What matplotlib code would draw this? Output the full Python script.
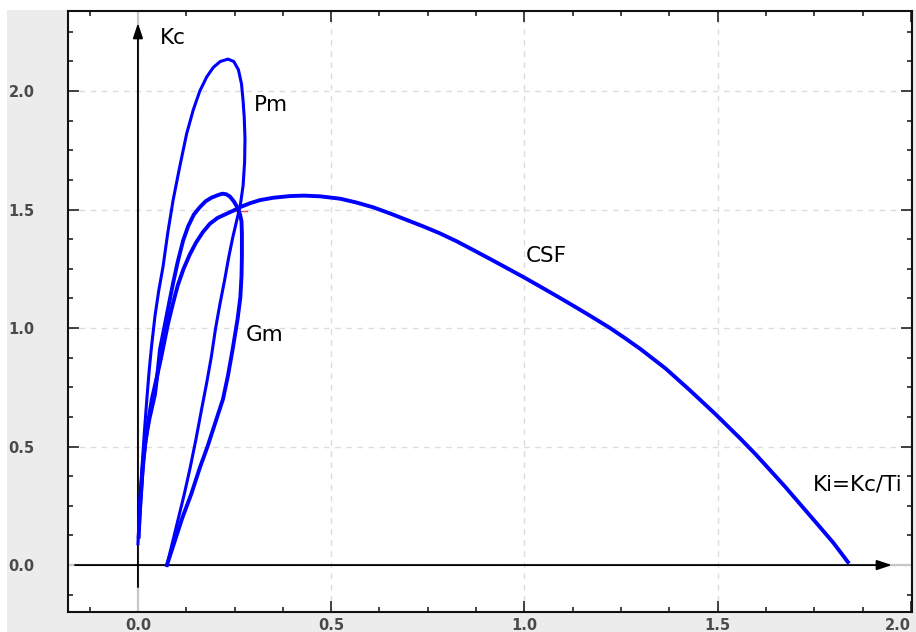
import matplotlib
matplotlib.use("Agg")
import matplotlib.pyplot as plt
from matplotlib.patches import Rectangle
from matplotlib.ticker import MultipleLocator

# ---- data ----
pm_x = [0.000, 0.002, 0.004, 0.008, 0.012, 0.017, 0.023, 0.029, 0.035, 0.044, 0.054, 0.065,
        0.077, 0.091, 0.108, 0.126, 0.143, 0.160, 0.178, 0.195, 0.213, 0.233, 0.248, 0.260,
        0.268, 0.272, 0.275, 0.277, 0.276, 0.272, 0.265, 0.255, 0.245, 0.235, 0.224, 0.212,
        0.201, 0.190, 0.178, 0.165, 0.150, 0.135, 0.120, 0.105, 0.090, 0.075]
pm_y = [0.09, 0.15, 0.25, 0.35, 0.45, 0.57, 0.70, 0.82, 0.92, 1.05, 1.16, 1.26,
        1.40, 1.54, 1.68, 1.82, 1.92, 2.00, 2.06, 2.10, 2.125, 2.135, 2.125, 2.09,
        2.03, 1.96, 1.89, 1.80, 1.70, 1.60, 1.52, 1.45, 1.38, 1.30, 1.20, 1.10,
        1.00, 0.88, 0.77, 0.66, 0.53, 0.41, 0.30, 0.20, 0.10, 0.00]

gm_x = [0.003, 0.006, 0.010, 0.014, 0.020, 0.030, 0.044, 0.050, 0.057, 0.068, 0.080, 0.091,
        0.103, 0.117, 0.130, 0.145, 0.160, 0.175, 0.190, 0.205, 0.218, 0.228, 0.238, 0.248,
        0.257, 0.264, 0.268, 0.269, 0.269, 0.268, 0.265, 0.258, 0.245, 0.233, 0.220, 0.200,
        0.180, 0.160, 0.138, 0.115, 0.095, 0.075]
gm_y = [0.17, 0.27, 0.36, 0.45, 0.53, 0.62, 0.72, 0.80, 0.91, 1.00, 1.10, 1.19,
        1.28, 1.37, 1.43, 1.48, 1.51, 1.535, 1.55, 1.56, 1.567, 1.565, 1.555, 1.535,
        1.51, 1.48, 1.45, 1.40, 1.30, 1.22, 1.13, 1.04, 0.91, 0.80, 0.70, 0.60,
        0.50, 0.41, 0.30, 0.20, 0.10, 0.00]

csf_x = [0.002, 0.004, 0.008, 0.012, 0.018, 0.026, 0.036, 0.047, 0.058, 0.068, 0.078, 0.090,
         0.103, 0.118, 0.134, 0.150, 0.168, 0.186, 0.206, 0.226, 0.246, 0.264, 0.290, 0.316,
         0.350, 0.393, 0.430, 0.471, 0.523, 0.565, 0.608, 0.652, 0.696, 0.740, 0.781, 0.825,
         0.867, 0.912, 0.955, 1.000, 1.040, 1.087, 1.130, 1.170, 1.221, 1.260, 1.300, 1.365,
         1.428, 1.495, 1.558, 1.598, 1.635, 1.675, 1.713, 1.757, 1.800, 1.837]
csf_y = [0.12, 0.20, 0.30, 0.40, 0.50, 0.60, 0.70, 0.78, 0.86, 0.94, 1.02, 1.10,
         1.18, 1.25, 1.31, 1.36, 1.405, 1.44, 1.465, 1.48, 1.495, 1.51, 1.527, 1.54,
         1.55, 1.557, 1.559, 1.556, 1.546, 1.530, 1.51, 1.484, 1.456, 1.428, 1.40, 1.366,
         1.330, 1.291, 1.253, 1.213, 1.176, 1.132, 1.091, 1.052, 1.001, 0.958, 0.912, 0.830,
         0.738, 0.636, 0.535, 0.468, 0.402, 0.330, 0.258, 0.175, 0.093, 0.013]

red_x = [0.238, 0.282]
red_y = [1.495, 1.495]

labels = {"Kc": (0.057, 2.198), "Pm": (0.300, 1.916), "Gm": (0.279, 0.945),
          "CSF": (1.004, 1.278), "Ki=Kc/Ti": (1.746, 0.316)}

xlim = (-0.181, 2.003)
ylim = (-0.198, 2.338)
x_major = [0.0, 0.5, 1.0, 1.5, 2.0]
y_major = [0.0, 0.5, 1.0, 1.5, 2.0]

# ---- figure ----
W, H = 916, 632
fig = plt.figure(figsize=(W / 100, H / 100), dpi=100, facecolor="white")
fig.patches.append(Rectangle((7 / W, 0), 1 - 7 / W, (H - 10) / H,
                             transform=fig.transFigure, facecolor="#ececec",
                             edgecolor="none", zorder=-10))
ax = fig.add_axes([68 / W, 1 - 612 / H, (912 - 68) / W, (612 - 11) / H])
ax.set_facecolor("white")
ax.set_xlim(*xlim)
ax.set_ylim(*ylim)

ax.set_xticks(x_major)
ax.set_yticks(y_major)
ax.set_xticklabels([f"{v:.1f}" for v in x_major])
ax.set_yticklabels([f"{v:.1f}" for v in y_major])
ax.xaxis.set_minor_locator(MultipleLocator(0.125))
ax.yaxis.set_minor_locator(MultipleLocator(0.125))
ax.tick_params(which="both", direction="in", top=True, right=True, color="#222222",
               width=1.2)
ax.tick_params(which="major", length=8)
ax.tick_params(which="minor", length=3.5)
ax.tick_params(axis="x", which="major", pad=4, labelsize=10.5, labelcolor="#4a4a4a")
ax.tick_params(axis="y", which="major", pad=24, labelsize=10.5, labelcolor="#4a4a4a")
for lab in ax.get_xticklabels() + ax.get_yticklabels():
    lab.set_fontweight("bold")
last = ax.get_xticklabels()[-1]
last.set_horizontalalignment("right")
for s in ax.spines.values():
    s.set_linewidth(1.5)
    s.set_color("#111111")

ax.grid(True, which="major", linestyle=(0, (4, 4)), color="#dcdcdc", linewidth=1.0)
ax.set_axisbelow(True)

# zero lines (light grey) and black arrows
ax.axhline(0, color="#c8c8c8", lw=1.6, zorder=1)
ax.axvline(0, color="#c8c8c8", lw=1.6, zorder=1)
ax.annotate("", xy=(1.951, 0), xytext=(-0.163, 0),
            arrowprops=dict(arrowstyle="-|>,head_length=0.9,head_width=0.3",
                            color="black", lw=1.3, shrinkA=0, shrinkB=0), zorder=3)
ax.annotate("", xy=(0, 2.287), xytext=(0, -0.093),
            arrowprops=dict(arrowstyle="-|>,head_length=0.9,head_width=0.3",
                            color="black", lw=1.3, shrinkA=0, shrinkB=0), zorder=3)

# curves
ax.plot(pm_x, pm_y, color="#0000ff", lw=2.2, zorder=4, solid_joinstyle="round")
ax.plot(gm_x, gm_y, color="#0000ff", lw=2.8, zorder=4, solid_joinstyle="round")
ax.plot(csf_x, csf_y, color="#0000ff", lw=2.8, zorder=4, solid_joinstyle="round")
ax.plot(red_x, red_y, color="#e05050", lw=1.0, zorder=3)

for txt, (x, y) in labels.items():
    ax.text(x, y, txt, fontsize=15.5, family=["DejaVu Sans"],
            ha="left", va="baseline", color="black", zorder=5, clip_on=False)

fig.savefig("out.png", dpi=100, facecolor=fig.get_facecolor())
